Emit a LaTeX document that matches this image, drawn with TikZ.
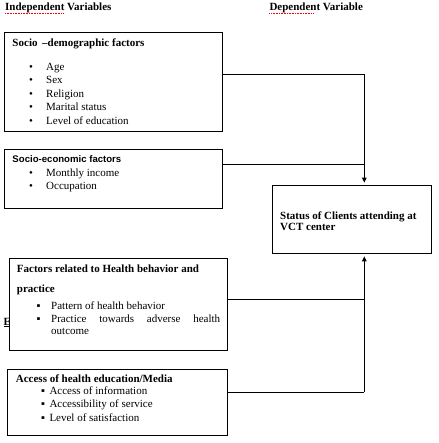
\documentclass[tikz,border=0pt]{standalone}
\usepackage{fontspec}
\setmainfont{Liberation Serif}
\newfontfamily\sansbold{Liberation Sans}
\usetikzlibrary{arrows.meta}
\begin{document}
\begin{tikzpicture}[x=1pt,y=-1pt,
  every node/.style={inner sep=0pt, font=\fontsize{11}{13}\selectfont},
  box/.style={draw, line width=1pt, fill=white, minimum width=#1},
  lbl/.style={anchor=mid west},
  ttl/.style={anchor=mid west, font=\fontsize{11}{13}\selectfont\bfseries},
  conn/.style={line width=1pt},
  arr/.style={line width=1pt, -{Triangle[width=4.5pt,length=5pt]}, shorten >=2.5pt},
  spell/.style={red, densely dotted, line width=0.6pt}]
\useasboundingbox (0,0) rectangle (438,443);

% headings
\node[ttl] (hind) at (5,8.5) {Independent Variables};
\node[ttl] (hdep) at (269.3,8.5) {Dependent Variable};
\coordinate (s1a) at (5,13); \coordinate (s1b) at (63,13);
\coordinate (s2a) at (269.3,13); \coordinate (s2b) at (314,13);
\draw[spell] (s1a) -- (s1b);
\draw[spell] (s2a) -- (s2b);

% box 1
\node[box=218pt, minimum height=99pt] (b1) at (113.5,82.5) {};
\node[ttl] (t1) at (12.3,44) {Socio \,--demographic factors};
\foreach \t [count=\i] in {Age, Sex, Religion, Marital status, Level of education}{
  \node[lbl] (b1d\i) at (29,54.5+13.5*\i) {\textbullet};
  \node[lbl] (b1t\i) at (46,54.5+13.5*\i) {\t};
}

% box 2
\node[box=218pt, minimum height=59pt] (b2) at (113.3,178.8) {};
\node[anchor=mid west, font=\fontsize{9.6}{11}\sansbold\bfseries] (t2) at (12.3,160.7) {Socio-economic factors};
\node[lbl] (b2d1) at (29,174.3) {\textbullet};
\node[lbl] (b2t1) at (46,174.3) {Monthly income};
\node[lbl] (b2d2) at (29,187.3) {\textbullet};
\node[lbl] (b2t2) at (46,187.3) {Occupation};

% hidden fragment behind box 3
\node[anchor=mid west, font=\fontsize{11}{13}\selectfont\bfseries] (frag) at (3.5,323) {\underline{E}};

% box 3
\node[box=218.2pt, minimum height=91.7pt] (b3) at (118.4,304.15) {};
\node[ttl] (t3a) at (16.7,270) {Factors related to Health behavior and};
\node[ttl] (t3b) at (16.7,290) {practice};
\node[lbl] (b3d1) at (36.5,307.3) {▪};
\node[lbl] (b3t1) at (51,307.3) {Pattern of health behavior};
\node[lbl] (b3d2) at (36.5,320.3) {▪};
\node[lbl] (b3t2) at (51,320.3) {\makebox[169pt][s]{Practice towards adverse health}};
\node[lbl] (b3t3) at (51,332) {outcome};

% box 4
\node[box=220.2pt, minimum height=65.7pt] (b4) at (117.4,402.15) {};
\node[ttl] (t4) at (15.7,380) {Access of health education/Media};
\foreach \t [count=\i] in {Access of information, Accessibility of service, Level of satisfaction}{
  \node[lbl] (b4d\i) at (41,379+13.3*\i) {▪};
  \node[lbl] (b4t\i) at (49.3,379+13.3*\i) {\t};
}

% status box
\node[box=158.7pt, minimum height=67.6pt] (st) at (351.65,219.5) {};
\node[ttl] (st1) at (280,217.3) {Status of Clients attending at};
\node[ttl] (st2) at (280,228.5) {VCT center};

% connectors
\coordinate (j1) at (364.3,74.3);
\coordinate (j2) at (364.3,165);
\coordinate (j3) at (364.3,299.3);
\coordinate (j4) at (364.3,392.3);
\draw[conn] (b1.east |- j1) -- (j1);
\draw[arr] (j1) -- (st.north -| j1);
\draw[conn] (b2.east |- j2) -- (j2);
\draw[conn] (b3.east |- j3) -- (j3);
\draw[conn] (b4.east |- j4) -- (j4);
\draw[arr] (j4) -- (st.south -| j4);
\end{tikzpicture}
\end{document}
